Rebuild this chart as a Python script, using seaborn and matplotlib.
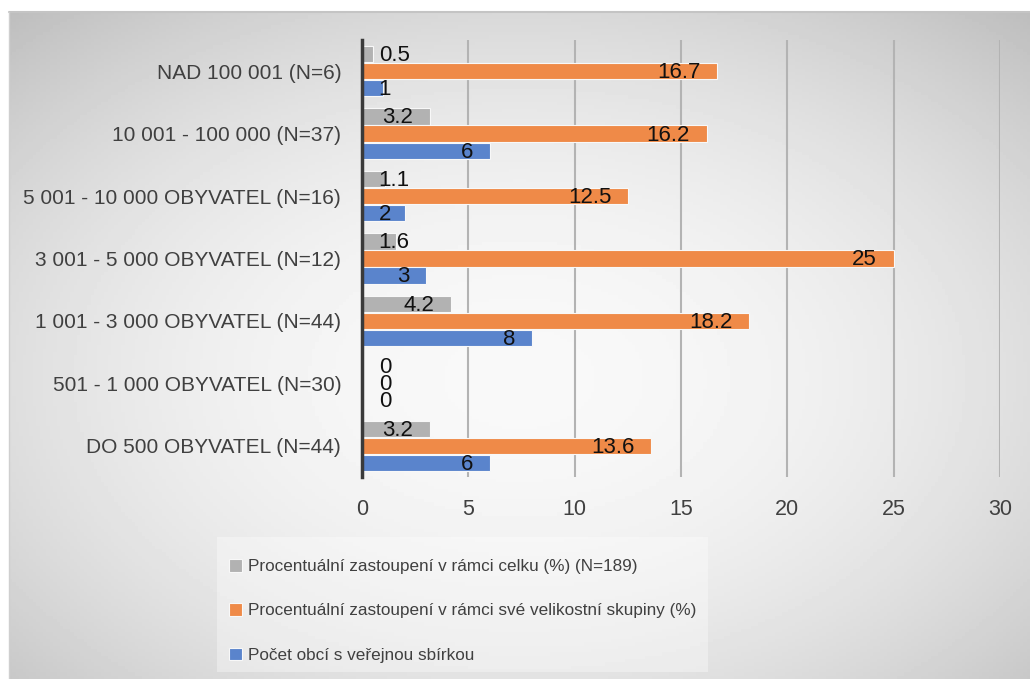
import numpy as np
import pandas as pd
import matplotlib
matplotlib.use('Agg')
import matplotlib.pyplot as plt
from matplotlib.patches import Rectangle
import seaborn as sns

kategorie = ['NAD 100 001 (N=6)', '10 001 - 100 000 (N=37)', '5 001 - 10 000 OBYVATEL (N=16)',
             '3 001 - 5 000 OBYVATEL (N=12)', '1 001 - 3 000 OBYVATEL (N=44)',
             '501 - 1 000 OBYVATEL (N=30)', 'DO 500 OBYVATEL (N=44)']
serie = ['Procentuální zastoupení v rámci celku (%) (N=189)',
         'Procentuální zastoupení v rámci své velikostní skupiny (%)',
         'Počet obcí s veřejnou sbírkou']
podil_celek = [0.5, 3.2, 1.1, 1.6, 4.2, 0, 3.2]
podil_skupina = [16.7, 16.2, 12.5, 25, 18.2, 0, 13.6]
pocet_obci = [1, 6, 2, 3, 8, 0, 6]
barvy = ['#b2b2b2', '#ef8a48', '#5a84cc']

df = pd.DataFrame({
    'kategorie': kategorie * 3,
    'serie': [serie[0]] * 7 + [serie[1]] * 7 + [serie[2]] * 7,
    'hodnota': podil_celek + podil_skupina + pocet_obci,
})

sns.set_style('white')
plt.rcParams['font.family'] = ['Liberation Sans Narrow', 'Liberation Sans', 'DejaVu Sans']

W, H = 1030, 679
fig = plt.figure(figsize=(W / 100, H / 100), dpi=100)
fig.patch.set_facecolor('white')

# radial grey gradient background of the chart area
bg = fig.add_axes([9 / W, 0, (W - 9) / W, (H - 12) / H], zorder=0)
gx, gy = np.meshgrid(np.linspace(-0.5, 0.5, 300), np.linspace(-0.55, 0.45, 200))
grad = 0.975 - 0.42 * (gx ** 2 + gy ** 2)
bg.imshow(grad, cmap='gray', vmin=0, vmax=1, aspect='auto', extent=[0, 1, 0, 1])
bg.set_axis_off()
fig.add_artist(plt.Line2D([9 / W, 1], [(H - 12) / H] * 2, color='#c4c4c4', lw=1.5, zorder=1))
fig.add_artist(plt.Line2D([9 / W] * 2, [0, (H - 12) / H], color='#cfcfcf', lw=1, zorder=1))

ax = fig.add_axes([362 / W, 1 - 477 / H, 638 / W, 437 / H], zorder=2)
ax.patch.set_alpha(0)

sns.barplot(data=df, y='kategorie', x='hodnota', hue='serie', orient='h',
            palette=barvy, hue_order=serie, order=kategorie, width=0.82, gap=0.04,
            saturation=1, edgecolor='#f8f8f8', linewidth=0.8, ax=ax, legend=True)

ax.set_xlim(0, 30)
ax.set_xticks(range(0, 31, 5))
ax.set_xlabel('')
ax.set_ylabel('')
ax.grid(axis='x', color='#b3b3b3', lw=1.5)
ax.set_axisbelow(True)
for s in ['top', 'right', 'bottom']:
    ax.spines[s].set_visible(False)
ax.spines['left'].set_color('#3a3a3a')
ax.spines['left'].set_linewidth(2.5)
ax.tick_params(axis='x', length=0, pad=16, labelsize=15.5, labelcolor='#404040')
ax.tick_params(axis='y', length=0, pad=15, labelsize=15, labelcolor='#404040')

# data labels, inside end, shifted right when they would hit the axis
labels = []
for cont in ax.containers:
    for bar in cont:
        v = bar.get_width()
        yc = bar.get_y() + bar.get_height() / 2
        txt = f'{v:g}'
        t = ax.annotate(txt, (v, yc), xytext=(-12, -1), textcoords='offset points',
                        ha='right', va='center', fontsize=16, color='#111111',
                        family=['Liberation Sans', 'DejaVu Sans'], zorder=5)
        labels.append((t, yc))

fig.canvas.draw()
r = fig.canvas.get_renderer()
x0px = ax.transData.transform((0, 0))[0]
for t, yc in labels:
    bb = t.get_window_extent(r)
    if bb.x0 < x0px + 17:
        t.xy = (0, yc)
        t.set_position((12, -1))
        t.set_ha('left')

# legend box below the plot
fig.add_artist(Rectangle((217 / W, 1 - 672 / H), (708 - 217) / W, (672 - 537) / H,
                         transform=fig.transFigure, facecolor='white', alpha=0.35,
                         edgecolor='none', zorder=3))
handles, lbls = ax.get_legend_handles_labels()
ax.legend_.remove()
leg = fig.legend(handles, lbls, loc='upper left', bbox_to_anchor=(229 / W, 1 - 559 / H),
                 fontsize=12.3, frameon=False, handlelength=0.75, handleheight=0.75,
                 handletextpad=0.35, labelspacing=1.7, borderpad=0, borderaxespad=0)
for txt in leg.get_texts():
    txt.set_color('#404040')
leg.set_zorder(4)

fig.savefig('out.png', dpi=100)
